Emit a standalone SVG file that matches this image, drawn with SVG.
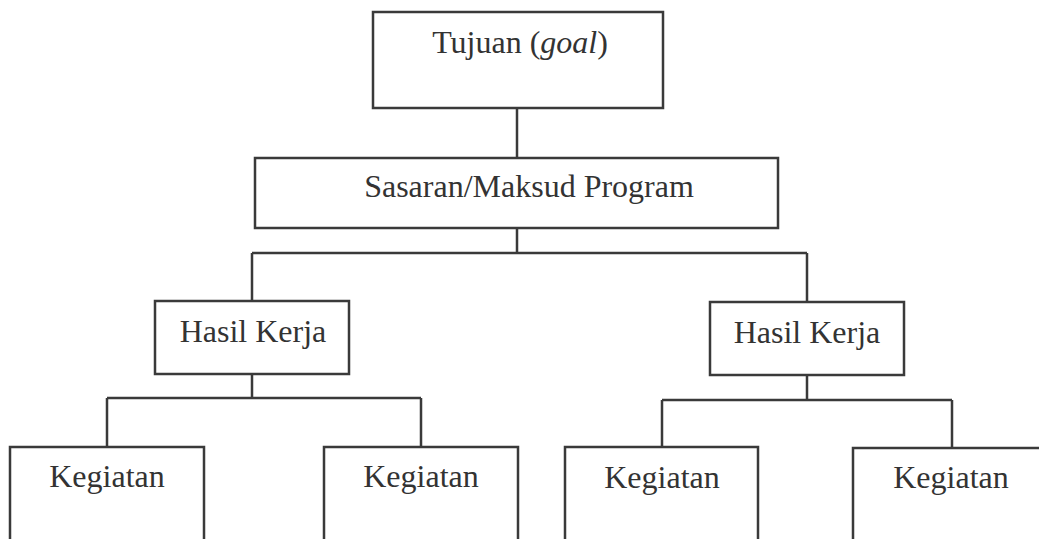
<svg xmlns="http://www.w3.org/2000/svg" width="1039" height="539" viewBox="0 0 1039 539">
<style>
.box{fill:none;stroke:#3a3a3a;stroke-width:2.5}
.ln{fill:none;stroke:#3a3a3a;stroke-width:2.5}
text{font-family:"Liberation Serif","Times New Roman",serif;font-size:32px;fill:#333;text-anchor:middle}
</style>
<rect width="1039" height="539" fill="#fff"/>
<g id="connectors">
<path class="ln" d="M517,108 V158"/>
<path class="ln" d="M517,228 V253 M252,253 H807 M252,253 V301 M807,253 V302"/>
<path class="ln" d="M252,374 V398 M107,398 H421 M107,398 V447 M421,398 V447"/>
<path class="ln" d="M807,375 V400 M662,400 H952 M662,400 V447 M952,400 V447"/>
</g>
<g id="goal"><rect class="box" x="373" y="12" width="290" height="96"/><text x="520" y="53">Tujuan (<tspan font-style="italic">goal</tspan>)</text></g>
<g id="sasaran"><rect class="box" x="255" y="158" width="523" height="70"/><text x="529" y="197">Sasaran/Maksud Program</text></g>
<g id="hasil1"><rect class="box" x="155" y="301" width="194" height="73"/><text x="253" y="342">Hasil Kerja</text></g>
<g id="hasil2"><rect class="box" x="710" y="302" width="194" height="73"/><text x="807" y="343">Hasil Kerja</text></g>
<g id="keg1"><rect class="box" x="10" y="447" width="194" height="120"/><text x="107" y="487">Kegiatan</text></g>
<g id="keg2"><rect class="box" x="324" y="447" width="194" height="120"/><text x="421" y="487">Kegiatan</text></g>
<g id="keg3"><rect class="box" x="565" y="447" width="193" height="120"/><text x="662" y="488">Kegiatan</text></g>
<g id="keg4"><rect class="box" x="853" y="448" width="220" height="120"/><text x="951" y="488">Kegiatan</text></g>
</svg>
